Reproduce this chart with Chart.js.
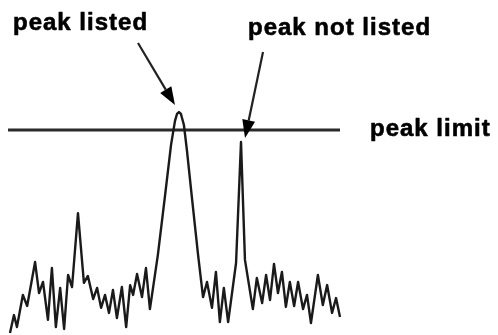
<!DOCTYPE html>
<html>
<head>
<meta charset="utf-8">
<script src="https://cdn.jsdelivr.net/npm/chart.js@4/dist/chart.umd.min.js"></script>
<style>
  html, body { margin: 0; padding: 0; background: #fff; }
  #wrap { width: 498px; height: 335px; }
</style>
</head>
<body>
<div id="wrap"><canvas id="c" width="498" height="335"></canvas></div>
<script>
// Spectrum trace: channel position and intensity
const channels = [
  0, 1.2, 2.1, 3.9, 5.2, 7.6, 8.8, 10.0, 11.5, 12.7, 13.9, 15.2, 16.4, 17.6, 18.8,
  20.6, 22.4, 23.6, 25.2, 26.4, 27.6, 28.8, 30.0, 31.2, 32.4, 33.9, 35.2, 36.4, 37.3,
  38.5, 40.0, 41.2, 42.4, 44.8, 47.0, 48.8, 50.0, 50.6, 51.2, 51.8, 52.7, 53.6, 55.2,
  57.0, 58.5, 59.7, 61.2, 62.4, 63.6, 64.8, 66.1, 68.5, 70.0, 71.2, 73.6, 74.8, 76.4,
  77.6, 78.8, 80.0, 81.2, 82.4, 83.6, 84.8, 86.1, 87.3, 88.8, 90.0, 91.2, 93.3, 94.8,
  96.1, 97.6, 98.8, 100
];
const intensity = [
  0.8, 8.3, 3.3, 16.7, 12.1, 30.4, 17.5, 22.1, 6.3, 27.9, 3.3, 19.6, 2.5, 25.0, 20.0,
  50.8, 21.7, 24.6, 15.0, 19.6, 11.3, 16.7, 9.2, 18.8, 7.1, 20.0, 3.3, 20.8, 16.7,
  25.4, 15.8, 27.9, 10.8, 33.3, 58.3, 79.2, 89.2, 92.1, 92.9, 92.1, 87.5, 77.1, 56.3,
  33.3, 15.8, 22.1, 11.3, 26.3, 5.4, 19.6, 5.4, 30.0, 80.4, 31.3, 10.8, 23.8, 13.3,
  25.0, 14.6, 29.6, 17.5, 26.3, 11.7, 22.1, 12.1, 22.1, 10.8, 16.7, 5.0, 25.0, 12.5,
  20.8, 9.2, 15.4, 7.5
];

// Threshold for peak reporting
const peakLimit = 85.4;
const limitSpan = [-0.6, 100];

// Annotation texts
const labelListed = 'peak listed';
const labelNotListed = 'peak not listed';
const labelLimit = 'peak limit';

const spectrum = channels.map((x, i) => ({ x, y: intensity[i] }));
const limitLine = limitSpan.map(x => ({ x, y: peakLimit }));

// index of the tallest point on each peak
function peakIndex(from, to) {
  let best = from;
  for (let i = from; i <= to; i++) if (intensity[i] > intensity[best]) best = i;
  return best;
}
const listedIdx = peakIndex(30, 48);
const notListedIdx = peakIndex(49, 60);

function arrow(ctx, x0, y0, x1, y1) {
  const ang = Math.atan2(y1 - y0, x1 - x0);
  const headLen = 18, headW = 6.5;
  const bx = x1 - headLen * Math.cos(ang), by = y1 - headLen * Math.sin(ang);
  ctx.beginPath();
  ctx.moveTo(x0, y0);
  ctx.lineTo(bx, by);
  ctx.stroke();
  ctx.beginPath();
  ctx.moveTo(x1, y1);
  ctx.lineTo(bx + headW * Math.sin(ang), by - headW * Math.cos(ang));
  ctx.lineTo(bx - headW * Math.sin(ang), by + headW * Math.cos(ang));
  ctx.closePath();
  ctx.fill();
}

const annotations = {
  id: 'annotations',
  afterDatasetsDraw(chart) {
    const { ctx, scales } = chart;
    const xs = scales.x, ys = scales.y;
    ctx.save();
    ctx.fillStyle = '#000';
    ctx.strokeStyle = '#222';
    ctx.lineWidth = 2.2;

    const p1x = xs.getPixelForValue(channels[listedIdx]);
    const p1y = ys.getPixelForValue(intensity[listedIdx]);
    arrow(ctx, 138, 43, p1x - 4, p1y - 7);

    const p2x = xs.getPixelForValue(channels[notListedIdx]);
    const p2y = ys.getPixelForValue(intensity[notListedIdx]);
    arrow(ctx, 263, 52, p2x + 4, p2y - 4);

    ctx.font = 'bold 24px "Liberation Sans", Arial, sans-serif';
    ctx.letterSpacing = '1px';
    ctx.textBaseline = 'alphabetic';
    ctx.textAlign = 'left';
    ctx.strokeStyle = '#000';
    ctx.lineWidth = 0.6;
    ctx.lineJoin = 'round';
    const texts = [[labelListed, 13, 30], [labelNotListed, 248, 35], [labelLimit, 370, 136]];
    for (const [t, x, y] of texts) {
      ctx.fillText(t, x, y);
      ctx.strokeText(t, x, y);
    }
    ctx.restore();
  }
};

new Chart(document.getElementById('c'), {
  type: 'line',
  data: {
    datasets: [
      {
        data: spectrum,
        borderColor: '#1a1a1a',
        borderWidth: 2.4,
        pointRadius: 0,
        tension: 0,
        borderJoinStyle: 'round',
        clip: false
      },
      {
        data: limitLine,
        borderColor: '#2a2a2a',
        borderWidth: 3,
        pointRadius: 0,
        clip: false
      }
    ]
  },
  options: {
    responsive: false,
    animation: false,
    devicePixelRatio: 1,
    layout: { padding: { left: 10, right: 158, top: 95, bottom: 0 } },
    plugins: { legend: { display: false }, tooltip: { enabled: false } },
    scales: {
      x: { type: 'linear', min: 0, max: 100, display: false },
      y: { type: 'linear', min: 0, max: 100, display: false }
    }
  },
  plugins: [annotations]
});
</script>
</body>
</html>
